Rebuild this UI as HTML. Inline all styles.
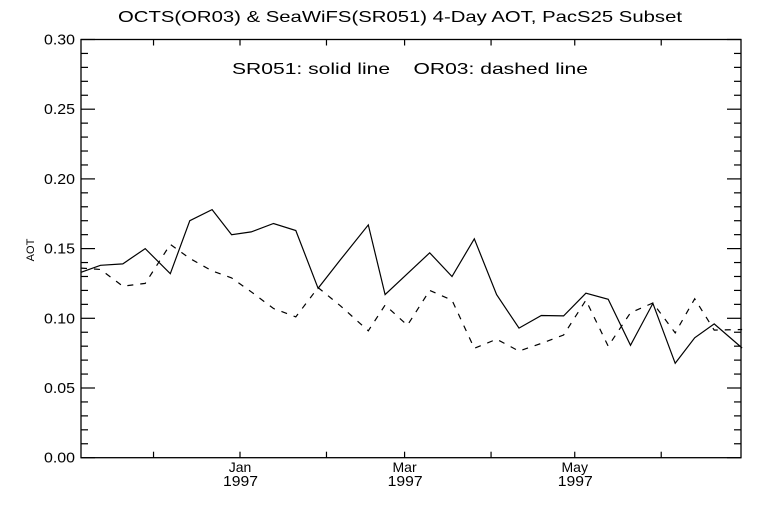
<!DOCTYPE html>
<html><head><meta charset="utf-8"><style>
html,body{margin:0;padding:0;background:#fff;}
svg{display:block;font-family:"Liberation Sans",sans-serif;}
</style></head><body>
<svg id="chart" width="768" height="512" viewBox="0 0 768 512" xmlns="http://www.w3.org/2000/svg">
<rect width="768" height="512" fill="#fff"/>
<text x="118" y="22" font-size="16" fill="#000" textLength="564" lengthAdjust="spacingAndGlyphs">OCTS(OR03) &amp; SeaWiFS(SR051) 4-Day AOT, PacS25 Subset</text>
<text x="232" y="74" font-size="16" fill="#000" textLength="356" lengthAdjust="spacingAndGlyphs" xml:space="preserve" style="white-space:pre">SR051: solid line    OR03: dashed line</text>
<text transform="translate(34,250) rotate(-90)" text-anchor="middle" font-size="11" fill="#000">AOT</text>
<rect x="81" y="39.5" width="660" height="418.2" fill="none" stroke="#000" stroke-width="1.3"/>
<g id="axes"></g>
<g id="series"></g>
</svg>
<script>
const days = [-57,-50,-42,-34,-25,-18,-10,-3,4,12,20,28,36,46,52,60,68,76,84,92,100,108,116,124,132,140,148,156,163,170,180];
const sr051 = [0.133,0.138,0.139,0.150,0.132,0.170,0.178,0.160,0.162,0.168,0.163,0.1215,0.142,0.167,0.117,0.132,0.147,0.130,0.157,0.117,0.093,0.102,0.1017,0.118,0.1136,0.0806,0.1107,0.0677,0.086,0.096,0.0787];
const or03 = [0.136,0.135,0.123,0.125,0.153,0.143,0.134,0.129,0.119,0.107,0.101,0.122,0.109,0.091,0.1095,0.095,0.120,0.113,0.0785,0.085,0.0765,0.082,0.088,0.113,0.080,0.104,0.111,0.0895,0.114,0.0915,0.092];
const yTickValues = [0.00,0.05,0.10,0.15,0.20,0.25,0.30];
const yTickLabels = ["0.00","0.05","0.10","0.15","0.20","0.25","0.30"];
const xTickDays = [-31,0,31,59,90,120,151];
const xMonthLabels = ["","Jan","","Mar","","May",""];
const xYearLabels = ["","1997","","1997","","1997",""];

const X0=81,X1=741,Y0=457.7,Y1=39.5;
const dMin=-57,dMax=179.6;
function xs(d){return X0+(d-dMin)/(dMax-dMin)*(X1-X0);}
function ys(v){return Y0-(v/0.30)*(Y0-Y1);}
const NS="http://www.w3.org/2000/svg";
const axes=document.getElementById('axes'), series=document.getElementById('series');
function mk(tag,attrs,parent){const e=document.createElementNS(NS,tag);for(const k in attrs)e.setAttribute(k,attrs[k]);parent.appendChild(e);return e;}

for(let i=0;i<=30;i++){
  const v=i*0.01, y=ys(v), major=(i%5===0), len=major?14:7;
  const t1=mk('line',{x1:X0,x2:X0+len,y1:y,y2:y,stroke:'#000','stroke-width':1.2},axes);
  
  
  const t2=mk('line',{x1:X1,x2:X1-len,y1:y,y2:y,stroke:'#000','stroke-width':1.2},axes);
  
  
}
yTickValues.forEach((v,i)=>{
  const t=mk('text',{x:44,y:ys(v)+5,'font-size':15,fill:'#000',textLength:31,lengthAdjust:'spacingAndGlyphs'},axes);
  t.textContent=yTickLabels[i];
  
  
});
xTickDays.forEach((d,i)=>{
  const x=xs(d);
  const b=mk('line',{x1:x,x2:x,y1:Y0,y2:Y0-6,stroke:'#000','stroke-width':1.2},axes);
  
  
  const t=mk('line',{x1:x,x2:x,y1:Y1,y2:Y1+6,stroke:'#000','stroke-width':1.2},axes);
  
  
  if(xMonthLabels[i]){
    const m=mk('text',{x:x,y:472,'text-anchor':'middle','font-size':14,fill:'#000'},axes);
    m.textContent=xMonthLabels[i];
    
    
    const yr=mk('text',{x:x-17,y:486,'font-size':15,fill:'#000',textLength:35,lengthAdjust:'spacingAndGlyphs'},axes);
    yr.textContent=xYearLabels[i];
    
    
  }
});
function pts(vals){return days.map((d,i)=>xs(d).toFixed(1)+','+ys(vals[i]).toFixed(1)).join(' ');}
const s=mk('polyline',{points:pts(sr051),fill:'none',stroke:'#000','stroke-width':1.2},series);


const o=mk('polyline',{points:pts(or03),fill:'none',stroke:'#000','stroke-width':1.2,'stroke-dasharray':'6,7'},series);


</script>
</body></html>
